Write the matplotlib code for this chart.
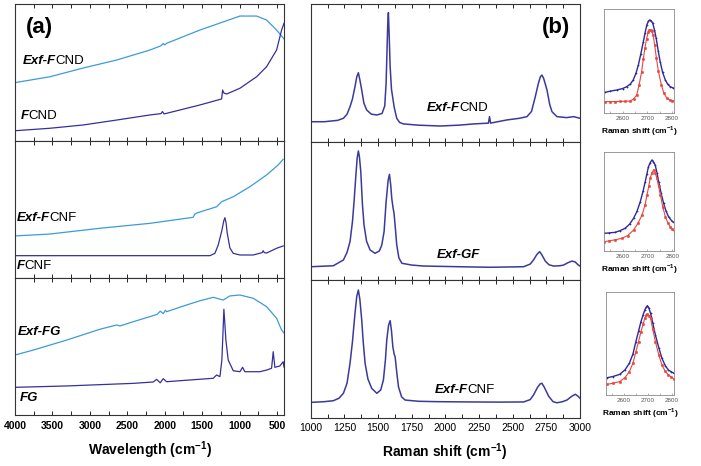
import numpy as np
import matplotlib.pyplot as plt
from matplotlib.ticker import MultipleLocator

plt.rcParams['font.family'] = ['Liberation Sans', 'DejaVu Sans']
plt.rcParams['mathtext.fontset'] = 'custom'
plt.rcParams['mathtext.rm'] = 'Liberation Sans'
plt.rcParams['mathtext.bf'] = 'Liberation Sans:bold'

# ---- (a) IR spectra, wavenumber (cm-1) vs intensity (a.u., 0-100 per panel)
exf_fcnd_ir_wn = [4000, 3533, 3088, 2642, 2198, 2050, 2020, 2000, 1975, 1530, 1173, 996, 773, 640, 506, 407]
exf_fcnd_ir = [42.6, 46.9, 53.3, 59.1, 66.4, 69.5, 71.2, 70.2, 71.3, 81.0, 87.8, 91.2, 91.2, 88.3, 81.0, 74.5]
fcnd_ir_wn = [4000, 3533, 3088, 2642, 2198, 2050, 2030, 2010, 1975, 1530, 1240, 1227, 1210, 1173, 996, 773, 640,
              506, 439, 407]
fcnd_ir = [7.5, 9.3, 11.7, 15.3, 19.0, 20.0, 21.5, 19.8, 20.2, 26.3, 30.7, 37.2, 35.0, 34.3, 38.5, 46.9, 54.2,
           66.4, 81.0, 85.9]

exf_fcnf_ir_wn = [4000, 3533, 2865, 2198, 1620, 1600, 1575, 1307, 1240, 1085, 863, 640, 485, 418]
exf_fcnf_ir = [30.7, 32.1, 36.3, 39.9, 44.3, 46.5, 47.4, 52.0, 55.7, 59.3, 66.6, 75.2, 82.5, 86.6]
fcnf_ir_wn = [4000, 3200, 2400, 1800, 1397, 1330, 1286, 1240, 1210, 1196, 1180, 1166, 1130, 1085, 996, 818, 700,
              685, 670, 640, 506, 418]
fcnf_ir = [16.3, 16.3, 16.3, 16.3, 16.3, 18.0, 24.0, 34.0, 42.0, 44.0, 40.0, 33.0, 22.0, 18.0, 16.8, 16.8, 18.5,
           19.9, 18.5, 18.2, 21.7, 23.4]

exf_fg_ir_wn = [4000, 3755, 3310, 2865, 2642, 2598, 2420, 2198, 2100, 2060, 2020, 1990, 1975, 1708, 1530, 1352,
                1219, 1130, 996, 818, 640, 506, 439, 407]
exf_fg_ir = [43.8, 47.4, 54.7, 62.6, 65.7, 65.0, 68.1, 71.8, 73.5, 75.8, 74.0, 76.5, 75.4, 80.3, 83.4, 85.9,
             83.9, 86.9, 87.6, 85.2, 79.1, 70.6, 62.0, 59.9]
fg_ir_wn = [4000, 3310, 2420, 2153, 2109, 2060, 2020, 1975, 1530, 1352, 1307, 1263, 1237, 1222, 1210, 1195, 1183,
            1152, 1085, 996, 960, 930, 729, 640, 573, 551, 529, 462, 418, 407]
fg_ir = [20.2, 21.2, 23.1, 24.1, 26.0, 23.5, 26.5, 24.3, 26.1, 26.8, 29.2, 28.0, 40.0, 60.0, 77.2, 65.0, 54.7,
         40.1, 32.3, 31.6, 34.8, 31.6, 31.6, 32.8, 34.1, 46.2, 34.8, 35.8, 38.9, 35.0]

# ---- (b) Raman spectra
exf_fcnd_ra_wn = [1000, 1100, 1200, 1243, 1270, 1292, 1310, 1329, 1342, 1354, 1365, 1379, 1395, 1416, 1450, 1491,
                  1530, 1550, 1560, 1565, 1572, 1577, 1582, 1590, 1600, 1610, 1620, 1639, 1660, 1689, 1800, 1961,
                  2100, 2209, 2320, 2328, 2336, 2457, 2550, 2606, 2640, 2668, 2690, 2705, 2717, 2730, 2755, 2775,
                  2792, 2829, 2900, 2953, 3000]
exf_fcnd_ra = [14.5, 14.5, 15.5, 17.0, 20.0, 25.4, 31.0, 40.0, 47.0, 50.1, 45.0, 37.5, 28.0, 23.0, 20.0, 19.4,
               20.5, 26.0, 42.4, 60.0, 85.0, 93.7, 80.0, 54.5, 38.0, 31.5, 25.0, 17.0, 14.0, 12.9, 12.0, 11.4,
               12.0, 12.9, 13.5, 18.2, 13.5, 15.8, 17.0, 18.2, 22.0, 32.7, 42.0, 47.0, 48.4, 46.0, 37.5, 27.0,
               21.8, 18.2, 17.5, 18.2, 17.0]

exf_gf_ra_wn = [1000, 1100, 1168, 1243, 1270, 1292, 1310, 1322, 1335, 1345, 1354, 1362, 1372, 1384, 1396, 1415,
                1441, 1478, 1510, 1528, 1545, 1560, 1575, 1585, 1595, 1602, 1612, 1619, 1630, 1639, 1655, 1677,
                1750, 1838, 2100, 2333, 2581, 2630, 2655, 2680, 2700, 2715, 2742, 2770, 2804, 2850, 2878, 2910,
                2940, 2965, 2985, 3000]
exf_gf_ra = [9.6, 10.0, 10.3, 14.5, 20.0, 27.7, 42.0, 56.6, 75.0, 88.0, 93.3, 89.0, 78.3, 55.0, 39.8, 28.0,
             21.7, 19.3, 21.0, 25.3, 35.0, 56.6, 72.0, 76.4, 68.0, 59.0, 52.0, 48.2, 36.0, 25.3, 16.0, 12.1,
             10.8, 10.1, 9.6, 9.2, 9.6, 11.5, 14.5, 18.5, 20.5, 18.5, 13.7, 11.0, 10.1, 10.3, 10.8, 12.5,
             13.7, 13.0, 11.0, 10.1]

exf_fcnf_ra_wn = [1000, 1100, 1168, 1210, 1243, 1270, 1292, 1310, 1329, 1342, 1354, 1365, 1379, 1390, 1404, 1425,
                  1453, 1491, 1520, 1540, 1555, 1565, 1578, 1590, 1600, 1610, 1620, 1627, 1640, 1652, 1675, 1701,
                  1800, 1945, 2200, 2400, 2581, 2630, 2655, 2685, 2705, 2717, 2735, 2767, 2800, 2829, 2870, 2903,
                  2940, 2965, 2985, 3000]
exf_fcnf_ra = [11.0, 11.5, 12.2, 14.0, 17.6, 25.0, 39.4, 55.0, 75.8, 88.0, 92.7, 86.0, 70.9, 55.0, 39.4, 28.0,
               21.2, 17.6, 20.0, 27.3, 42.0, 56.4, 67.0, 70.4, 63.0, 51.5, 46.0, 44.2, 32.0, 22.3, 15.0, 12.7,
               11.8, 11.5, 11.3, 11.2, 11.3, 13.0, 16.4, 22.0, 24.5, 24.9, 22.0, 15.5, 11.5, 10.7, 11.5, 12.7,
               15.5, 16.9, 15.5, 14.0]

# ---- insets: 2D band, measured (blue) and fitted (red)
in1_blue_wn = [2531, 2550, 2576, 2600, 2617, 2632, 2643, 2654, 2664, 2674, 2684, 2691, 2698, 2704, 2709, 2716,
               2722, 2729, 2736, 2744, 2752, 2762, 2773, 2783, 2793, 2805, 2815]
in1_blue = [19.9, 21.0, 22.1, 23.5, 25.3, 28.0, 31.7, 38.0, 46.2, 57.0, 68.6, 77.0, 84.6, 88.0, 89.4, 88.5,
            86.3, 80.0, 71.8, 60.0, 49.3, 39.0, 31.7, 27.5, 25.3, 24.0, 23.1]
in1_red_wn = [2531, 2550, 2570, 2590, 2610, 2630, 2645, 2657, 2667, 2677, 2684, 2690, 2697, 2704, 2708, 2713,
              2718, 2724, 2730, 2737, 2745, 2757, 2767, 2778, 2790, 2800, 2815]
in1_red = [10.9, 11.0, 11.0, 11.1, 11.3, 11.5, 13.5, 17.3, 27.0, 39.7, 52.0, 62.2, 71.0, 78.2, 79.5, 79.8,
           78.5, 75.0, 65.0, 52.6, 40.0, 26.9, 19.0, 14.7, 12.5, 12.0, 11.5]

in2_blue_wn = [2525, 2545, 2570, 2590, 2610, 2628, 2644, 2658, 2671, 2682, 2691, 2698, 2704, 2711, 2718, 2724,
               2731, 2738, 2745, 2755, 2765, 2775, 2785, 2797, 2810]
in2_blue = [17.8, 18.2, 18.8, 20.5, 22.9, 27.0, 32.9, 40.0, 49.6, 60.0, 69.8, 78.0, 84.9, 89.0, 91.6, 90.0,
            86.6, 79.0, 69.8, 58.0, 48.0, 40.0, 34.5, 30.5, 27.9]
in2_red_wn = [2525, 2545, 2570, 2597, 2620, 2644, 2662, 2678, 2690, 2698, 2705, 2711, 2718, 2725, 2731, 2738,
              2745, 2752, 2762, 2772, 2782, 2792, 2800, 2810]
in2_red = [9.4, 10.2, 11.3, 12.8, 15.5, 21.1, 28.0, 36.3, 46.0, 56.4, 65.0, 73.2, 79.0, 81.6, 79.0, 73.2,
           65.0, 56.4, 44.0, 34.5, 28.5, 24.5, 22.0, 19.4]

in3_blue_wn = [2532, 2555, 2583, 2605, 2623, 2638, 2650, 2661, 2671, 2680, 2687, 2693, 2698, 2704, 2711, 2720,
               2731, 2745, 2758, 2772, 2785, 2797, 2808]
in3_blue = [16.9, 18.0, 20.1, 24.5, 30.9, 40.0, 51.9, 62.0, 71.4, 78.0, 82.8, 85.5, 87.0, 84.5, 79.6, 70.0,
            58.4, 46.0, 35.7, 28.5, 24.3, 22.5, 21.1]
in3_red_wn = [2532, 2555, 2583, 2605, 2623, 2638, 2650, 2661, 2671, 2680, 2687, 2693, 2698, 2704, 2711, 2720,
              2731, 2745, 2758, 2772, 2785, 2797, 2808]
in3_red = [10.4, 11.5, 13.0, 17.0, 22.7, 31.0, 42.2, 52.0, 61.6, 69.0, 74.7, 77.5, 78.6, 77.0, 74.7, 64.0,
           51.9, 39.0, 29.2, 23.0, 19.5, 17.5, 15.6]

W, H = 701, 466
LIGHT = '#3c9bd8'
DARK = '#35309a'
RAMAN = '#3b3a9c'


def px_axes(fig, left, top, right, bottom):
    return fig.add_axes([left / W, 1 - bottom / H, (right - left) / W, (bottom - top) / H])


def two_part(ax, x, y, bold, normal, size=9.5):
    # bold italic prefix, then the plain suffix glued right after it
    t = ax.text(x, y, bold, transform=ax.transAxes, fontsize=size, fontweight='bold',
                fontstyle='italic', va='center', ha='left')
    if normal:
        ax.annotate(normal, xy=(1, 0.5), xycoords=t, xytext=(-0.6, 0), textcoords='offset points',
                    fontsize=size, va='center', ha='left')


fig = plt.figure(figsize=(W / 100, H / 100), dpi=100)

# (a) left column
ir_rows = [(4, 141), (141, 278), (278, 415)]
ir_data = [
    (exf_fcnd_ir_wn, exf_fcnd_ir, fcnd_ir_wn, fcnd_ir, ('Exf-F', 'CND', 0.030, 0.584), ('F', 'CND', 0.022, 0.182)),
    (exf_fcnf_ir_wn, exf_fcnf_ir, fcnf_ir_wn, fcnf_ir, ('Exf-F', 'CNF', 0.007, 0.438), ('F', 'CNF', 0.007, 0.088)),
    (exf_fg_ir_wn, exf_fg_ir, fg_ir_wn, fg_ir, ('Exf-FG', '', 0.011, 0.606), ('FG', '', 0.019, 0.124)),
]
for i, ((top, bot), d) in enumerate(zip(ir_rows, ir_data)):
    ax = px_axes(fig, 15, top, 284, bot)
    ax.plot(d[0], d[1], color=LIGHT, lw=0.9)
    ax.plot(d[2], d[3], color=DARK, lw=0.9)
    ax.set_xlim(4000, 407)
    ax.set_ylim(0, 100)
    ax.set_yticks([])
    ax.xaxis.set_major_locator(MultipleLocator(500))
    ax.xaxis.set_minor_locator(MultipleLocator(250))
    ax.tick_params(axis='x', which='both', direction='in', top=True, length=3, width=0.6,
                   labelsize=7.5, pad=4)
    for lab in ax.get_xticklabels():
        lab.set_fontweight('bold')
    if i < 2:
        ax.tick_params(axis='x', labelbottom=False)
    for s in ax.spines.values():
        s.set_linewidth(0.8)
        s.set_color('#333333')
    two_part(ax, d[4][2], d[4][3], d[4][0], d[4][1])
    two_part(ax, d[5][2], d[5][3], d[5][0], d[5][1])

# (b) middle column
ra_rows = [(4, 141.7), (141.7, 280), (280, 417.5)]
ra_data = [
    (exf_fcnd_ra_wn, exf_fcnd_ra, ('Exf-F', 'CND', 0.432, 0.245)),
    (exf_gf_ra_wn, exf_gf_ra, ('Exf-GF', '', 0.469, 0.181)),
    (exf_fcnf_ra_wn, exf_fcnf_ra, ('Exf-F', 'CNF', 0.462, 0.200)),
]
for i, ((top, bot), d) in enumerate(zip(ra_rows, ra_data)):
    ax = px_axes(fig, 310.7, top, 580, bot)
    ax.plot(d[0], d[1], color=RAMAN, lw=1.1)
    ax.set_xlim(1000, 3000)
    ax.set_ylim(0, 100)
    ax.set_yticks([])
    ax.xaxis.set_major_locator(MultipleLocator(250))
    ax.xaxis.set_minor_locator(MultipleLocator(125))
    ax.tick_params(axis='x', which='both', direction='in', top=True, length=3, width=0.6,
                   labelsize=7.5, pad=4)
    if i < 2:
        ax.tick_params(axis='x', labelbottom=False)
    for s in ax.spines.values():
        s.set_linewidth(0.8)
        s.set_color('#333333')
    two_part(ax, d[2][2], d[2][3], d[2][0], d[2][1])

# insets
inset_boxes = [(604, 9, 674, 113), (604, 151.7, 674.3, 251), (605.7, 292.3, 674, 395)]
inset_data = [
    (in1_blue_wn, in1_blue, in1_red_wn, in1_red),
    (in2_blue_wn, in2_blue, in2_red_wn, in2_red),
    (in3_blue_wn, in3_blue, in3_red_wn, in3_red),
]
for box, d in zip(inset_boxes, inset_data):
    ax = px_axes(fig, *box)
    ax.plot(d[0], d[1], color='#2c2a9c', lw=1.0, marker='+', ms=2, mew=0.5)
    ax.plot(d[2], d[3], color='#e8463c', lw=0.8, marker='o', ms=1.8, mfc='#e8463c', mew=0.3)
    ax.set_xlim(2525, 2808)
    ax.set_ylim(0, 100)
    ax.set_yticks([])
    ax.set_xticks([2600, 2700, 2800])
    ax.xaxis.set_minor_locator(MultipleLocator(50))
    ax.tick_params(axis='x', which='both', direction='in', length=1.5, width=0.4,
                   labelsize=4.5, pad=2, labelcolor='#555555', color='#777777')
    for s in ax.spines.values():
        s.set_linewidth(0.6)
        s.set_color('#8a8a8a')
    ax.set_xlabel(r'Raman shift (cm$^{\mathbf{-1}}$)', fontsize=6, fontweight='bold', labelpad=2)

fig.text(39 / W, 1 - 27 / H, '(a)', fontsize=16, fontweight='bold', ha='center', va='center')
fig.text(556 / W, 1 - 27 / H, '(b)', fontsize=16, fontweight='bold', ha='center', va='center')
fig.text(150 / W, 1 - 450 / H, r'Wavelength (cm$^{\mathbf{-1}}$)', fontsize=10, fontweight='bold',
         ha='center', va='center')
fig.text(445 / W, 1 - 452 / H, r'Raman shift (cm$^{\mathbf{-1}}$)', fontsize=10, fontweight='bold',
         ha='center', va='center')

fig.savefig('out.png', dpi=100)
